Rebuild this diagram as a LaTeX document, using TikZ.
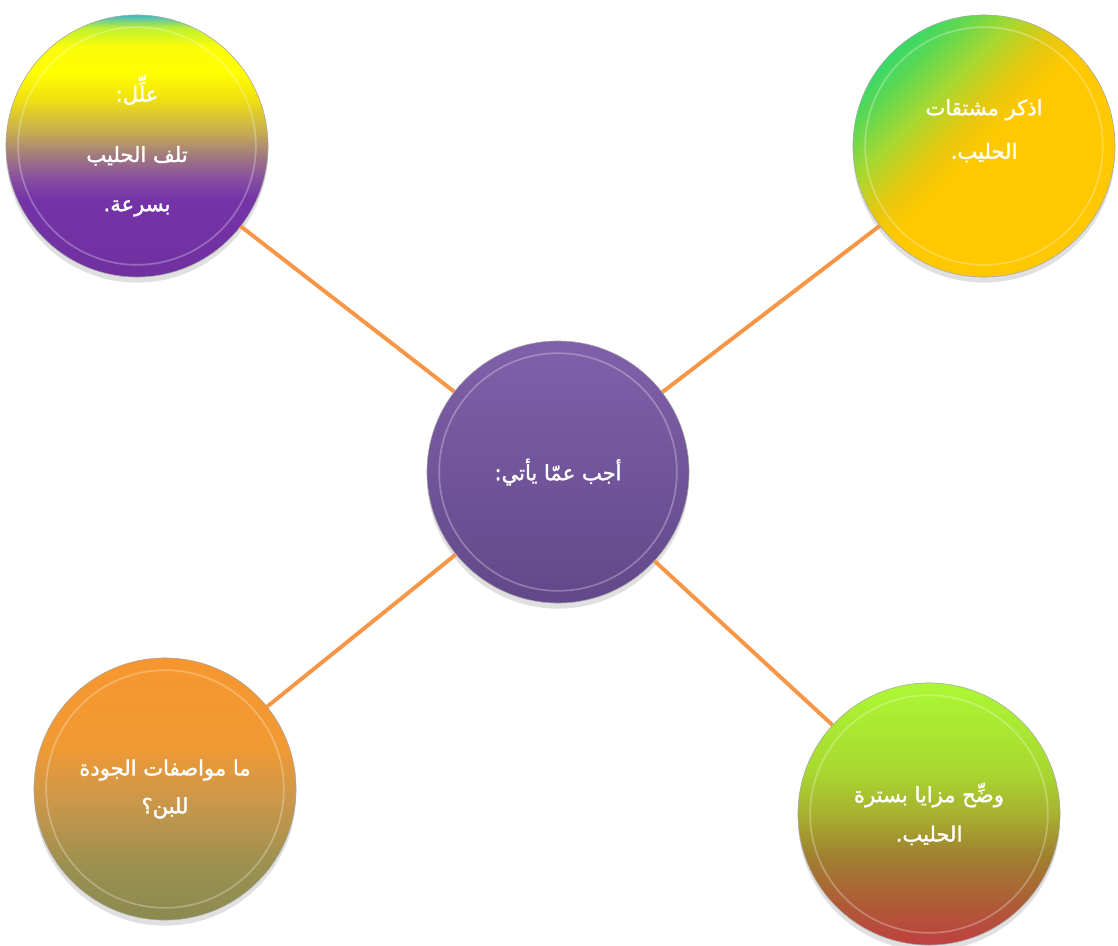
\documentclass[tikz,border=0pt]{standalone}
\usepackage{fontspec}
\newfontfamily\arabicfont[Script=Arabic, FakeBold=1.6]{DejaVu Sans}
\TeXXeTstate=1
\usetikzlibrary{positioning}
\definecolor{linkorange}{HTML}{F79646}
\pgfdeclareverticalshading{causeshade}{100bp}{color(0bp)=(rgb,255:red,112;green,48;blue,160); color(25bp)=(rgb,255:red,112;green,48;blue,160); color(40bp)=(rgb,255:red,116;green,52;blue,168); color(44bp)=(rgb,255:red,136;green,80;blue,160); color(48bp)=(rgb,255:red,160;green,120;blue,128); color(53bp)=(rgb,255:red,200;green,176;blue,80); color(59bp)=(rgb,255:red,240;green,224;blue,16); color(64bp)=(rgb,255:red,255;green,255;blue,0); color(69bp)=(rgb,255:red,250;green,252;blue,10); color(72.5bp)=(rgb,255:red,192;green,240;blue,48); color(75bp)=(rgb,255:red,64;green,184;blue,200); color(100bp)=(rgb,255:red,64;green,184;blue,200)}
\pgfdeclareverticalshading{listshade}{100bp}{color(0bp)=(rgb,255:red,255;green,200;blue,0); color(50bp)=(rgb,255:red,255;green,200;blue,0); color(56bp)=(rgb,255:red,228;green,200;blue,16); color(63bp)=(rgb,255:red,168;green,216;blue,48); color(70bp)=(rgb,255:red,96;green,216;blue,80); color(75bp)=(rgb,255:red,56;green,216;blue,104); color(100bp)=(rgb,255:red,56;green,216;blue,104)}
\pgfdeclareverticalshading{qualityshade}{100bp}{color(0bp)=(rgb,255:red,140;green,138;blue,80); color(25bp)=(rgb,255:red,140;green,138;blue,80); color(35bp)=(rgb,255:red,154;green,144;blue,80); color(48bp)=(rgb,255:red,204;green,151;blue,74); color(58bp)=(rgb,255:red,240;green,154;blue,52); color(75bp)=(rgb,255:red,247;green,150;blue,46); color(100bp)=(rgb,255:red,247;green,150;blue,46)}
\pgfdeclareverticalshading{pasteurshade}{100bp}{color(0bp)=(rgb,255:red,192;green,64;blue,64); color(25bp)=(rgb,255:red,192;green,64;blue,64); color(32bp)=(rgb,255:red,176;green,88;blue,56); color(42bp)=(rgb,255:red,160;green,128;blue,48); color(50bp)=(rgb,255:red,168;green,176;blue,48); color(58bp)=(rgb,255:red,168;green,216;blue,48); color(75bp)=(rgb,255:red,172;green,248;blue,52); color(100bp)=(rgb,255:red,172;green,248;blue,52)}
\newcommand{\arline}[1]{\beginR #1\endR}

\begin{document}
\begin{tikzpicture}[x=0.025cm, y=-0.025cm,
ball/.style={circle, minimum size=6.55cm, inner sep=0pt, align=center, text=white,
  draw=black!35, line width=0.4pt,
  preaction={fill=black, opacity=0.12, transform canvas={yshift=-4pt}},
  font=\arabicfont\fontsize{15}{31}\selectfont},
link/.style={linkorange, line width=2.8pt}]
\useasboundingbox (0,0) rectangle (1118,946);
\node[ball, shading=causeshade] (cause) at (137,146) {\arline{علِّل:}\\[12pt]\arline{تلف الحليب}\\[4pt]\arline{بسرعة.}};
\node[ball, shading=listshade, shading angle=45, text depth=0.85cm] (derive) at (984,146) {\arline{اذكر مشتقات}\\\arline{الحليب.}};
\node[ball, top color={rgb,255:red,128;green,96;blue,170}, bottom color={rgb,255:red,98;green,72;blue,138}] (ask) at (558,472) {\arline{أجب عمّا يأتي:}};
\node[ball, shading=qualityshade] (quality) at (165,789) {\arline{ما مواصفات الجودة}\\[-4pt]\arline{للبن؟}};
\node[ball, shading=pasteurshade] (pasteur) at (929,814) {\arline{وضِّح مزايا بسترة}\\[-3pt]\arline{الحليب.}};
\foreach \b in {cause,derive,ask,quality,pasteur}
  \draw[white, opacity=0.28, line width=1.2pt] (\b.center) circle[radius=2.97cm];
\draw[link] (ask) -- (cause);
\draw[link] (ask) -- (derive);
\draw[link] (ask) -- (quality);
\draw[link] (ask) -- (pasteur);
\end{tikzpicture}
\end{document}
